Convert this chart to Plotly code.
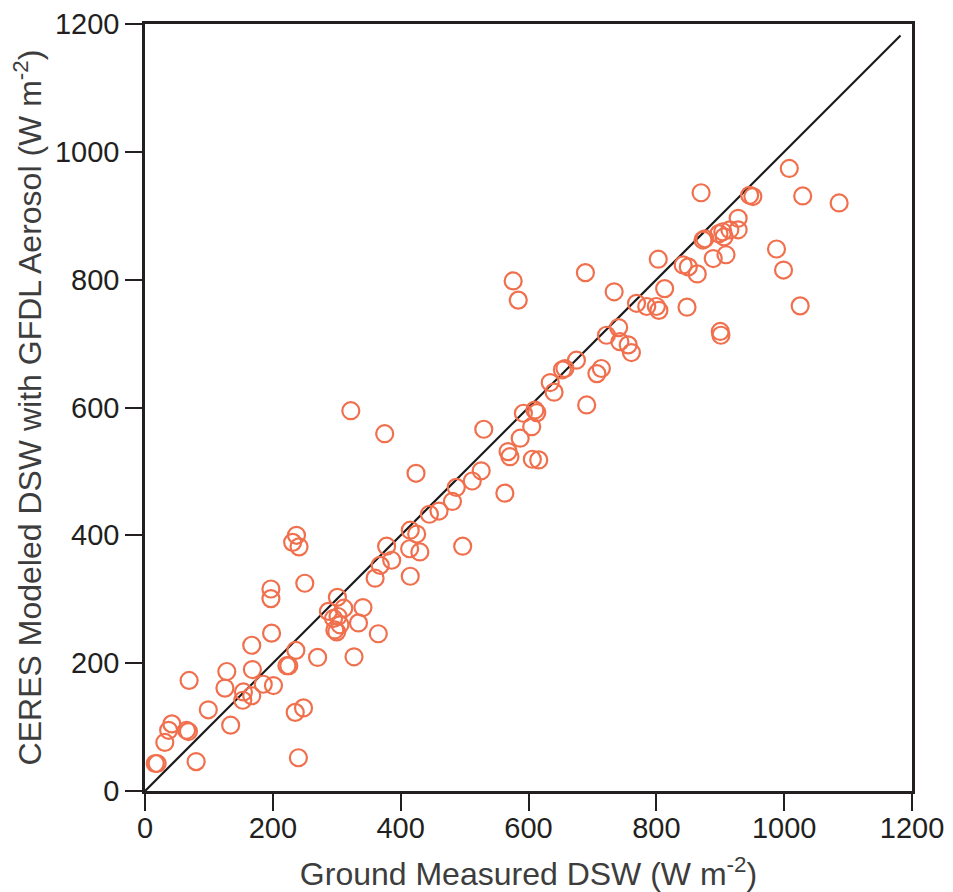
import plotly.graph_objects as go

ground_dsw = [16, 19, 31, 37, 42, 65, 68, 69, 80, 99, 125, 128, 134, 153, 154, 167, 167, 168, 185, 201,
              197, 197, 198, 222, 225, 231, 237, 241, 236, 235, 248, 240, 250, 270, 287, 295, 297, 300, 301, 302,
              305, 311, 322, 327, 334, 341, 360, 365, 368, 375, 378, 386, 415, 415, 414, 424, 425, 430, 445, 460,
              481, 487, 497, 512, 526, 530, 563, 568, 571, 576, 584, 587, 592, 605, 606, 610, 613, 616, 634, 640,
              653, 657, 675, 689, 691, 707, 714, 722, 734, 741, 743, 756, 761, 769, 785, 800, 803, 804, 813, 842,
              850, 848, 864, 870, 873, 876, 889, 898, 900, 901, 904, 906, 909, 915, 928, 928, 946, 951, 988, 999,
              1008, 1025, 1029, 1086]
ceres_dsw = [43, 43, 76, 95, 105, 95, 93, 173, 46, 127, 161, 187, 103, 142, 155, 149, 228, 190, 167, 165,
             316, 301, 247, 196, 196, 389, 400, 382, 220, 123, 130, 52, 325, 209, 281, 270, 252, 249, 303, 273,
             260, 286, 595, 210, 263, 287, 333, 246, 353, 559, 383, 361, 408, 336, 379, 497, 402, 374, 433, 438,
             453, 475, 383, 485, 501, 566, 466, 531, 523, 798, 768, 552, 591, 570, 519, 596, 592, 518, 639, 624,
             659, 661, 674, 811, 604, 653, 661, 713, 781, 725, 703, 698, 686, 763, 758, 758, 832, 752, 786, 823,
             820, 757, 809, 936, 862, 864, 833, 872, 719, 713, 875, 867, 839, 878, 878, 896, 932, 930, 848, 815,
             974, 759, 931, 920]
line_x = [0, 1182]
line_y = [0, 1182]

x_ticks = [0, 200, 400, 600, 800, 1000, 1200]
y_ticks = [0, 200, 400, 600, 800, 1000, 1200]

fig = go.Figure()
fig.add_trace(go.Scatter(x=line_x, y=line_y, mode="lines",
                         line=dict(color="#1a1a1a", width=2.2), showlegend=False))
fig.add_trace(go.Scatter(x=ground_dsw, y=ceres_dsw, mode="markers",
                         marker=dict(symbol="circle-open", size=17, color="#F0704E",
                                     line=dict(width=2.2, color="#F0704E")),
                         showlegend=False))

font_family = "Liberation Sans, Arial, sans-serif"
axis_common = dict(range=[0, 1200], showgrid=False, zeroline=False, automargin=False,
                   showline=True, linecolor="#231F20", linewidth=2.5, mirror=True,
                   ticks="outside", ticklen=17, tickwidth=1.5, tickcolor="#231F20",
                   tickfont=dict(size=29, color="#231F20"))
# page body has an 8px default margin, so the figure is 8px smaller than the window
fig.update_layout(
    width=945, height=884,
    margin=dict(l=137, r=41, t=16, b=101),
    paper_bgcolor="white", plot_bgcolor="white",
    font=dict(family=font_family, size=29, color="#231F20"),
    xaxis=dict(tickvals=x_ticks, ticklabelstandoff=-8,
               title=dict(text="Ground Measured DSW (W m<sup>-2</sup>)",
                          font=dict(size=32, color="#3d3d3d"), standoff=25),
               **axis_common),
    yaxis=dict(tickvals=y_ticks,
               title=dict(text="CERES Modeled DSW with GFDL Aerosol (W m<sup>-2</sup>)",
                          font=dict(size=32, color="#3d3d3d"), standoff=12),
               **axis_common),
)

fig.write_html("out.html")
